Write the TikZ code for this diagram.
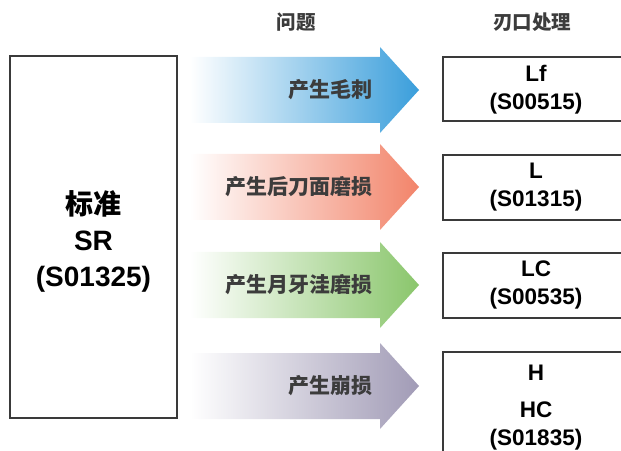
\documentclass[tikz,border=0pt]{standalone}
\usepackage{fontspec}
\setmainfont{Liberation Sans}
\newfontfamily\cjk{Noto Sans CJK SC}
\definecolor{boxgray}{HTML}{3A3A3A}
\definecolor{txtgray}{HTML}{3C3C3C}
\definecolor{cblue}{HTML}{3A9EDB}
\definecolor{corange}{HTML}{F2846A}
\definecolor{cgreen}{HTML}{8AC66C}
\definecolor{cpurple}{HTML}{A19BB6}
\tikzset{
  box/.style={draw=boxgray, line width=1.3bp, fill=white, inner sep=0pt},
  latin/.style={font=\bfseries\fontsize{22.5bp}{28bp}\selectfont, text=black, align=center},
  bigtxt/.style={font=\bfseries\fontsize{28bp}{36bp}\selectfont, text=black, align=center},
  head/.style={font=\cjk\bfseries\fontsize{19.5bp}{22bp}\selectfont, text=txtgray},
  probtxt/.style={font=\cjk\bfseries\fontsize{21bp}{24bp}\selectfont, text=txtgray, anchor=east, inner sep=0pt}
}
\newcommand\probarrow[2]{%
  \shade[left color=white, right color=#2]
    (190,#1-33) -- (380,#1-33) -- (380,#1-43) -- (419,#1) -- (380,#1+43)
    -- (380,#1+33) -- (190,#1+33) -- cycle;}
\begin{document}
\begin{tikzpicture}[x=1bp,y=-1bp]
\useasboundingbox (0,0) rectangle (621,451);
\clip (0,0) rectangle (621,451);
% headers
\node[head] (hq) at (296,22) {问题};
\node[head] (hd) at (532,22) {刃口处理};
% left box
\node[box, minimum width=167bp, minimum height=362bp] (std) at (93.5,237) {};
\node[bigtxt] (stdt) at (93.5,241) {{\cjk\bfseries\fontsize{28bp}{36bp}\selectfont 标准}\\SR\\(S01325)};
% arrows
\probarrow{90}{cblue}
\probarrow{187}{corange}
\probarrow{285}{cgreen}
\probarrow{386}{cpurple}
\node[probtxt] (p1) at (373,90) {产生毛刺};
\node[probtxt] (p2) at (373,187) {产生后刀面磨损};
\node[probtxt] (p3) at (373,285) {产生月牙洼磨损};
\node[probtxt] (p4) at (373,386) {产生崩损};
% right boxes
\node[box, minimum width=186bp, minimum height=64bp] (b1) at (536,89) {};
\node[box, minimum width=186bp, minimum height=65bp] (b2) at (536,187.5) {};
\node[box, minimum width=186bp, minimum height=65bp] (b3) at (536,285.5) {};
\node[box, minimum width=186bp, minimum height=128bp] (b4) at (536,416) {};
\node[latin] (t1) at (536,90) {Lf\\(S00515)};
\node[latin] (t2) at (536,187) {L\\(S01315)};
\node[latin] (t3) at (536,285) {LC\\(S00535)};
\node[latin] (t4) at (536,408) {H\\[9bp]HC\\(S01835)};
\end{tikzpicture}
\end{document}
